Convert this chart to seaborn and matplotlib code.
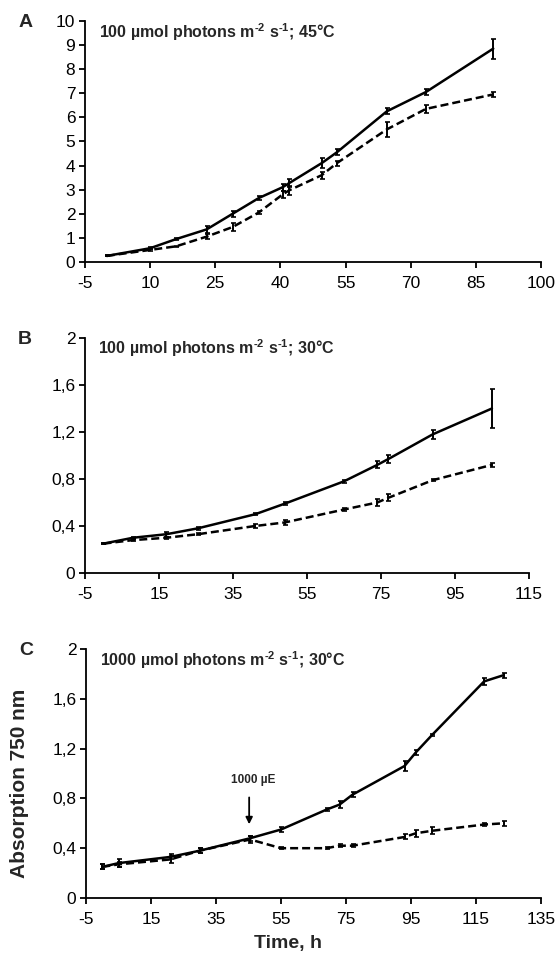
import numpy as np
import pandas as pd
import matplotlib
matplotlib.use("Agg")
import matplotlib.pyplot as plt
from matplotlib.ticker import FuncFormatter
import seaborn as sns

# panel A: 100 umol photons, 45 C
a_time = [0, 10, 16, 23, 29, 35, 40.5, 42, 49.5, 53, 64.5, 73.5, 89]
a_solid = [0.25, 0.57, 0.95, 1.35, 2.0, 2.65, 3.1, 3.27, 4.1, 4.55, 6.25, 7.05, 8.85]
a_solid_err = [0.02, 0.03, 0.04, 0.15, 0.12, 0.1, 0.15, 0.18, 0.2, 0.12, 0.12, 0.12, 0.42]
a_dash = [0.25, 0.5, 0.65, 1.05, 1.45, 2.05, 2.8, 2.97, 3.6, 4.1, 5.5, 6.35, 6.95]
a_dash_err = [0.02, 0.03, 0.03, 0.1, 0.18, 0.08, 0.15, 0.2, 0.15, 0.1, 0.3, 0.15, 0.1]

# panel B: 100 umol photons, 30 C
b_time = [0, 8, 17, 25.5, 41, 49, 65, 74, 77, 89, 105]
b_solid = [0.25, 0.3, 0.33, 0.38, 0.5, 0.59, 0.78, 0.92, 0.97, 1.18, 1.4]
b_solid_err = [0.005, 0.01, 0.02, 0.015, 0.01, 0.01, 0.01, 0.03, 0.03, 0.04, 0.17]
b_dash = [0.25, 0.28, 0.3, 0.33, 0.4, 0.43, 0.54, 0.6, 0.64, 0.79, 0.92]
b_dash_err = [0.005, 0.01, 0.01, 0.01, 0.02, 0.02, 0.01, 0.03, 0.03, 0.01, 0.02]

# panel C: 1000 umol photons, 30 C
c_time = [0, 5, 21, 30, 45.5, 55, 69, 73, 77, 93, 96.5, 101.5, 117.5, 123.5]
c_solid = [0.25, 0.28, 0.33, 0.38, 0.48, 0.55, 0.71, 0.75, 0.83, 1.06, 1.17, 1.31, 1.74, 1.79]
c_solid_err = [0.02, 0.03, 0.02, 0.02, 0.02, 0.02, 0.01, 0.03, 0.02, 0.04, 0.02, 0.01, 0.03, 0.02]
c_dash = [0.25, 0.27, 0.31, 0.38, 0.47, 0.4, 0.4, 0.42, 0.42, 0.49, 0.52, 0.54, 0.59, 0.6]
c_dash_err = [0.02, 0.02, 0.03, 0.02, 0.03, 0.01, 0.01, 0.01, 0.01, 0.02, 0.03, 0.03, 0.01, 0.02]

panels = [
    ("A", "45°C", "100", a_time, a_solid, a_solid_err, a_dash, a_dash_err, (-5, 100, 15), (0, 10, 1)),
    ("B", "30°C", "100", b_time, b_solid, b_solid_err, b_dash, b_dash_err, (-5, 115, 20), (0, 2, 0.4)),
    ("C", "30°C", "1000", c_time, c_solid, c_solid_err, c_dash, c_dash_err, (-5, 135, 20), (0, 2, 0.4)),
]

sns.set_style("ticks")
plt.rcParams["font.family"] = ["Liberation Sans", "DejaVu Sans"]
plt.rcParams["axes.unicode_minus"] = False
plt.rcParams["mathtext.fontset"] = "custom"
plt.rcParams["mathtext.bf"] = "Liberation Sans:bold"
plt.rcParams["mathtext.rm"] = "Liberation Sans:bold"

fig = plt.figure(figsize=(5.57, 9.55), dpi=100)
boxes = [
    [0.1526, 0.7257, 0.8187, 0.2524],
    [0.1526, 0.4000, 0.7970, 0.2461],
    [0.1544, 0.0597, 0.8169, 0.2607],
]

def comma_fmt(v, pos):
    if abs(v - round(v)) < 1e-9:
        return f"{v:.0f}"
    return f"{v:.1f}".replace(".", ",")

for box, (letter, temp, light, t, s, se, d, de, xr, yr) in zip(boxes, panels):
    ax = fig.add_axes(box)
    df = pd.DataFrame({
        "time": list(t) + list(t),
        "od": list(s) + list(d),
        "series": ["solid"] * len(t) + ["dash"] * len(t),
    })
    sns.lineplot(data=df, x="time", y="od", style="series",
                 dashes={"solid": "", "dash": (3.2, 1.6)},
                 color="black", linewidth=1.8, legend=False, ax=ax,
                 estimator=None, sort=False)
    ax.errorbar(t, s, yerr=se, fmt="none", ecolor="black", elinewidth=1.4,
                capsize=1.8, capthick=1.2)
    ax.errorbar(t, d, yerr=de, fmt="none", ecolor="black", elinewidth=1.4,
                capsize=1.8, capthick=1.2)

    ax.set_xlim(xr[0], xr[1])
    ax.set_ylim(yr[0], yr[1])
    ax.set_xticks(np.arange(xr[0], xr[1] + 0.1, xr[2]))
    ax.set_yticks(np.arange(yr[0], yr[1] + 1e-6, yr[2]))
    ax.yaxis.set_major_formatter(FuncFormatter(comma_fmt))
    ax.set_xlabel("")
    ax.set_ylabel("")
    sns.despine(ax=ax)
    for sp in ["left", "bottom"]:
        ax.spines[sp].set_linewidth(1.3)
        ax.spines[sp].set_color("black")
    ax.tick_params(direction="out", length=4, width=1.3, labelsize=12.5,
                   colors="black")
    ax.tick_params(axis="x", pad=6)
    ax.tick_params(axis="y", pad=3)

    ax.text(0.03, 0.955,
            light + " µmol photons m" + r"$^{\mathbf{‐2}}$" + " s" + r"$^{\mathbf{‐1}}$" + "; " + temp,
            transform=ax.transAxes, fontsize=11.5, fontweight="bold",
            ha="left", va="center")
    fig.text(box[0] - 0.12, box[1] + box[3] - 0.002, letter, fontsize=14,
             fontweight="bold", ha="left", va="center")

    if letter == "C":
        ax.annotate("", xy=(45.2, 0.57), xytext=(45.2, 0.83),
                    arrowprops=dict(arrowstyle="-|>", color="black", lw=1.3,
                                    mutation_scale=10))
        ax.text(46.5, 0.95, "1000 µE", fontsize=8.5, fontweight="bold",
                ha="center", va="center")
        ax.set_ylabel("Absorption 750 nm", fontsize=15, fontweight="bold")
        ax.yaxis.set_label_coords(-0.125, 0.46)
        ax.set_xlabel("Time, h", fontsize=14, fontweight="bold")
        ax.xaxis.set_label_coords(0.444, -0.148)

fig.savefig("out.png", dpi=100)
